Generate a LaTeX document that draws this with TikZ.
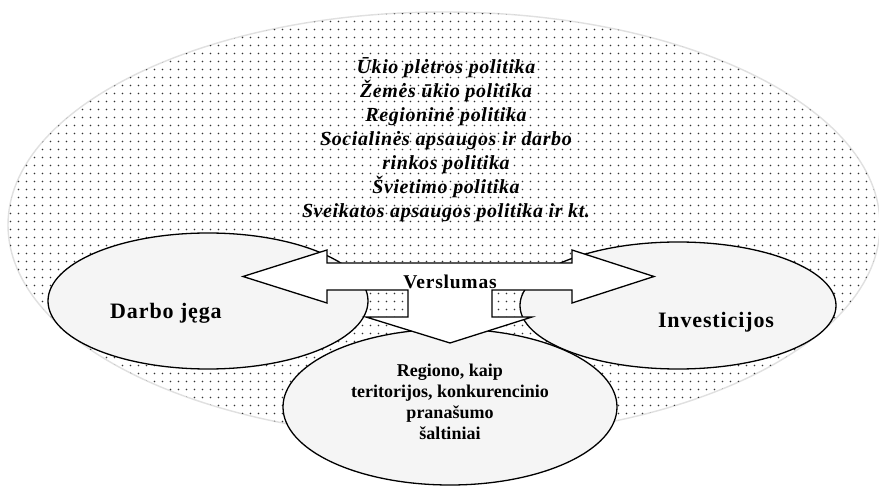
\documentclass[tikz,border=0pt]{standalone}
\usepackage{fontspec}
\setmainfont{Liberation Serif}
\newfontfamily\topfont[LetterSpace=3]{Liberation Serif}
\newfontfamily\midfont[LetterSpace=4]{Liberation Serif}
\newfontfamily\botfont{Liberation Serif}
\usetikzlibrary{shapes.geometric,patterns.meta}
\tikzdeclarepattern{
  name=wdots,
  type=colored,
  bottom left={(0pt,0pt)},
  top right={(7.5pt,7.5pt)},
  tile size={(7.5pt,7.5pt)},
  code={\fill[black!80] (3.75pt,3.75pt) circle (1pt);}
}
\tikzset{
  bigell/.style={ellipse, draw=black!12, line width=1.4pt, fill=white,
    postaction={pattern=wdots}, inner sep=0pt},
  smallell/.style={ellipse, draw=black, line width=1.3pt, fill=black!4, inner sep=0pt},
  arrowshape/.style={draw=black, line width=1.3pt, fill=white, line join=miter},
  toptext/.style={align=center, inner sep=0pt, font=\topfont\bfseries\itshape\fontsize{20}{24}\selectfont},
  bottext/.style={align=center, inner sep=0pt, font=\botfont\bfseries\fontsize{18}{21}\selectfont},
  labtext/.style={inner sep=0pt, anchor=base, font=\midfont\bfseries\fontsize{22}{26}\selectfont}
}
\begin{document}
\begin{tikzpicture}[x=1pt,y=-1pt]
\fill[white] (0,0) rectangle (879,486);
\useasboundingbox (0,0) rectangle (879,486);
% big ellipse
\node[bigell, minimum width=872pt, minimum height=426pt] (big) at (444,225) {};
\node[toptext] (policies) at (446,140) {Ūkio plėtros politika\\Žemės ūkio politika\\Regioninė politika\\Socialinės apsaugos ir darbo\\rinkos politika\\Švietimo politika\\Sveikatos apsaugos politika ir kt.};
% small ellipses
\node[smallell, minimum width=320pt, minimum height=136pt] (darbo) at (208,301) {};
\node[smallell, minimum width=316pt, minimum height=127pt] (invest) at (678,305.5) {};
\node[smallell, minimum width=334pt, minimum height=156pt] (region) at (450,407) {};
% arrows
\path[arrowshape] (243,276.5) coordinate (ltip) -- (327,250) -- (327,263) -- (572,263) -- (572,250)
  -- (654,276.5) coordinate (rtip) -- (572,303) -- (572,290) -- (492,290) -- (492,317) -- (532,317)
  -- (450,343) coordinate (dtip) -- (366,317) -- (408,317) -- (408,290) -- (327,290) -- (327,303) -- cycle;
% labels
\node[labtext] (darbolab) at (166,319) {Darbo jęga};
\node[labtext] (investlab) at (716,327.5) {Investicijos};
\node[labtext, font=\midfont\bfseries\fontsize{19.5}{23}\selectfont] (verslumas) at (450,289) {Verslumas};
\node[bottext] (regionlab) at (450,402) {Regiono, kaip\\teritorijos, konkurencinio\\pranašumo\\šaltiniai};
\end{tikzpicture}
\end{document}
